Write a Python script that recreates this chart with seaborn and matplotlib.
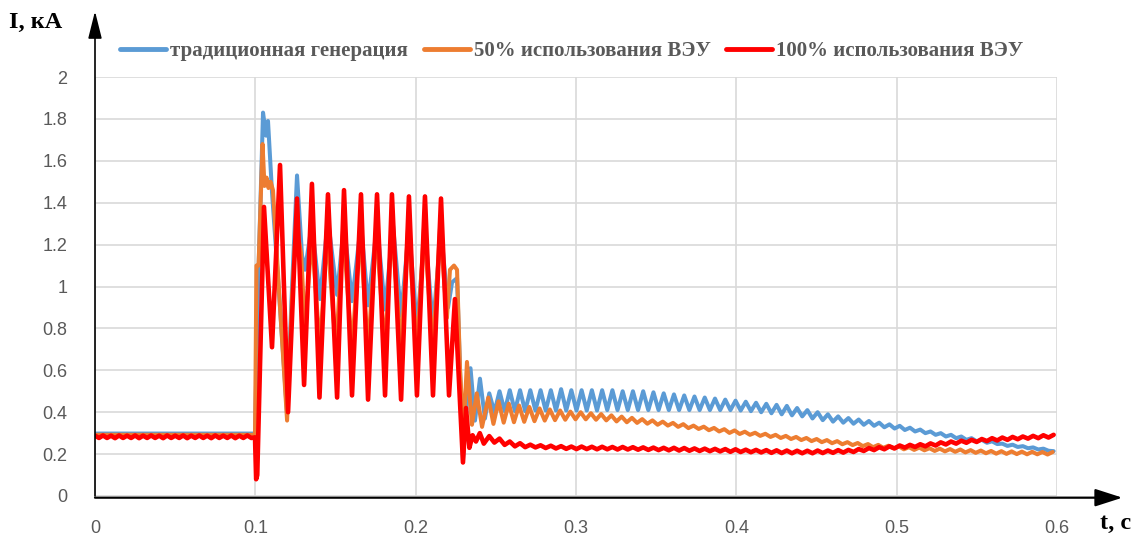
import numpy as np
import pandas as pd
import matplotlib
matplotlib.use("Agg")
import matplotlib.pyplot as plt
import seaborn as sns

# ---------------- data ----------------
series_names = ["традиционная генерация", "50% использования ВЭУ", "100% использования ВЭУ"]
series_colors = ["#5B9BD5", "#ED7D31", "#FF0000"]

x_ticks = [0, 0.1, 0.2, 0.3, 0.4, 0.5, 0.6]
x_tick_labels = ["0", "0.1", "0.2", "0.3", "0.4", "0.5", "0.6"]
y_ticks = [0, 0.2, 0.4, 0.6, 0.8, 1.0, 1.2, 1.4, 1.6, 1.8, 2.0]
y_tick_labels = ["0", "0.2", "0.4", "0.6", "0.8", "1", "1.2", "1.4", "1.6", "1.8", "2"]

# --- traditional generation (blue): pre-fault + fault + transient
blue_fault_t = [0.0, 0.0998, 0.1017, 0.1048, 0.1067, 0.1079, 0.1104, 0.1154, 0.1198, 0.1229,
                0.126, 0.1291, 0.131, 0.1353, 0.1403, 0.1453, 0.151, 0.1553, 0.1603, 0.1659,
                0.1703, 0.1759, 0.1809, 0.1859, 0.1909, 0.1958, 0.2008, 0.2058, 0.2108, 0.2158,
                0.2202, 0.2227, 0.2258, 0.2277, 0.2295, 0.232, 0.2342, 0.237, 0.2401, 0.2432]
blue_fault_v = [0.298, 0.298, 1.00, 1.83, 1.72, 1.79, 1.45, 0.90, 0.39, 1.00,
                1.53, 1.15, 1.08, 1.30, 0.94, 1.32, 0.96, 1.30, 0.93, 1.30,
                0.91, 1.30, 0.89, 1.29, 0.86, 1.28, 0.80, 1.27, 0.81, 1.27,
                0.90, 1.02, 1.04, 0.60, 0.17, 0.45, 0.61, 0.36, 0.56, 0.37]
# post-fault ripple: alternating peaks / troughs every half period
blue_post_start = 0.2459
blue_post_step = 0.0032
blue_post_v = [0.49, 0.40, 0.50, 0.405, 0.505, 0.405, 0.505, 0.405, 0.505, 0.408,
               0.505, 0.408, 0.505, 0.408, 0.51, 0.408, 0.505, 0.408, 0.505, 0.408,
               0.505, 0.408, 0.505, 0.41, 0.505, 0.41, 0.50, 0.41, 0.50, 0.41,
               0.50, 0.41, 0.495, 0.41, 0.49, 0.41, 0.485, 0.41, 0.48, 0.41,
               0.475, 0.41, 0.47, 0.41, 0.465, 0.41, 0.46, 0.41, 0.455, 0.408,
               0.45, 0.405, 0.445, 0.40, 0.44, 0.395, 0.435, 0.39, 0.43, 0.385,
               0.42, 0.38, 0.41, 0.37, 0.40, 0.362, 0.39, 0.355, 0.38, 0.35,
               0.372, 0.345, 0.365, 0.34, 0.358, 0.335, 0.35, 0.328, 0.342, 0.322,
               0.335, 0.315, 0.326, 0.308, 0.317, 0.30, 0.308, 0.292, 0.30, 0.284,
               0.292, 0.276, 0.284, 0.268, 0.276, 0.261, 0.268, 0.254, 0.261, 0.248,
               0.25, 0.239, 0.245, 0.234, 0.238, 0.228, 0.232, 0.222, 0.226, 0.216, 0.214]

# --- 50 % wind (orange)
orange_fault_t = [0.0, 0.0998, 0.1007, 0.102, 0.1045, 0.1057, 0.107, 0.1082, 0.1095, 0.111,
                  0.1154, 0.1198, 0.1229, 0.1254, 0.1285, 0.131, 0.1353, 0.1403, 0.1447, 0.1503,
                  0.1547, 0.1603, 0.1653, 0.1703, 0.1753, 0.1809, 0.1852, 0.1909, 0.1952, 0.2008,
                  0.2052, 0.2108, 0.2152, 0.2195, 0.2214, 0.2239, 0.2258, 0.2277, 0.2298, 0.232,
                  0.2351, 0.2381, 0.2414]
orange_fault_v = [0.292, 0.292, 1.10, 1.10, 1.68, 1.48, 1.52, 1.47, 1.50, 1.46,
                  0.90, 0.36, 0.95, 1.30, 1.16, 0.80, 1.24, 0.70, 1.25, 0.70,
                  1.27, 0.70, 1.26, 0.70, 1.27, 0.70, 1.28, 0.70, 1.27, 0.70,
                  1.28, 0.70, 1.28, 0.85, 1.08, 1.10, 1.08, 0.60, 0.30, 0.64,
                  0.34, 0.49, 0.33]
orange_post_start = 0.2453
orange_post_step = 0.0032
orange_post_v = [0.47, 0.344, 0.452, 0.35, 0.441, 0.352, 0.432, 0.354, 0.425, 0.357,
                 0.418, 0.36, 0.413, 0.362, 0.408, 0.364, 0.403, 0.366, 0.40, 0.366,
                 0.395, 0.364, 0.391, 0.361, 0.385, 0.356, 0.379, 0.352, 0.373, 0.349,
                 0.367, 0.345, 0.361, 0.34, 0.355, 0.336, 0.349, 0.33, 0.343, 0.324,
                 0.336, 0.32, 0.331, 0.314, 0.325, 0.308, 0.319, 0.301, 0.313, 0.296,
                 0.307, 0.292, 0.302, 0.287, 0.297, 0.282, 0.292, 0.277, 0.287, 0.272,
                 0.282, 0.267, 0.277, 0.262, 0.272, 0.257, 0.267, 0.252, 0.262, 0.247,
                 0.257, 0.243, 0.253, 0.238, 0.248, 0.233, 0.244, 0.23, 0.24, 0.227,
                 0.237, 0.223, 0.233, 0.22, 0.231, 0.218, 0.228, 0.215, 0.226, 0.213,
                 0.224, 0.211, 0.222, 0.208, 0.219, 0.206, 0.217, 0.204, 0.215, 0.202,
                 0.214, 0.201, 0.213, 0.20, 0.212, 0.199, 0.211, 0.199, 0.21, 0.198, 0.21]

# --- 100 % wind (red)
red_pre_step = 0.0025
red_pre_v = [0.288, 0.277, 0.289, 0.277, 0.288, 0.276, 0.289, 0.277, 0.288, 0.277,
             0.289, 0.276, 0.288, 0.277, 0.289, 0.277, 0.288, 0.276, 0.289, 0.277,
             0.288, 0.277, 0.289, 0.276, 0.288, 0.277, 0.289, 0.277, 0.288, 0.276,
             0.289, 0.277, 0.288, 0.277, 0.289, 0.276, 0.288, 0.277, 0.289, 0.277]
red_fault_t = [0.0998, 0.1005, 0.1012, 0.1054, 0.1104, 0.1154, 0.1204, 0.126, 0.1304, 0.1353,
               0.14, 0.1453, 0.151, 0.1553, 0.1603, 0.1659, 0.1703, 0.1759, 0.1809, 0.1852,
               0.1909, 0.1958, 0.2008, 0.2058, 0.2108, 0.2158, 0.2208, 0.2245, 0.2295, 0.2314,
               0.2335, 0.2355, 0.2376, 0.24, 0.2425]
red_fault_v = [0.28, 0.08, 0.10, 1.38, 0.71, 1.58, 0.40, 1.42, 0.53, 1.49,
               0.47, 1.44, 0.47, 1.46, 0.48, 1.44, 0.46, 1.44, 0.48, 1.44,
               0.46, 1.43, 0.48, 1.43, 0.48, 1.42, 0.48, 0.94, 0.16, 0.42,
               0.23, 0.29, 0.26, 0.30, 0.25]
red_post_start = 0.2459
red_post_step = 0.0032
red_post_v = [0.286, 0.255, 0.274, 0.244, 0.26, 0.237, 0.252, 0.233, 0.245, 0.232,
              0.242, 0.229, 0.24, 0.227, 0.238, 0.225, 0.236, 0.224, 0.236, 0.224,
              0.235, 0.223, 0.235, 0.223, 0.234, 0.222, 0.234, 0.222, 0.233, 0.221,
              0.232, 0.22, 0.231, 0.219, 0.23, 0.218, 0.23, 0.217, 0.229, 0.216,
              0.227, 0.215, 0.226, 0.214, 0.225, 0.213, 0.224, 0.211, 0.223, 0.21,
              0.221, 0.209, 0.22, 0.208, 0.219, 0.206, 0.218, 0.205, 0.217, 0.204,
              0.216, 0.204, 0.216, 0.204, 0.217, 0.205, 0.217, 0.206, 0.219, 0.207,
              0.22, 0.21, 0.224, 0.215, 0.229, 0.219, 0.233, 0.223, 0.237, 0.227,
              0.241, 0.231, 0.244, 0.234, 0.247, 0.237, 0.251, 0.241, 0.256, 0.246,
              0.26, 0.25, 0.264, 0.254, 0.268, 0.258, 0.272, 0.262, 0.276, 0.265,
              0.279, 0.268, 0.282, 0.271, 0.284, 0.274, 0.287, 0.276, 0.29, 0.279, 0.292]

# ---------------- assemble tidy tables ----------------
def post_times(start, step, vals):
    return list(start + step * np.arange(len(vals)))

blue_t = blue_fault_t + post_times(blue_post_start, blue_post_step, blue_post_v)
blue_v = blue_fault_v + blue_post_v
orange_t = orange_fault_t + post_times(orange_post_start, orange_post_step, orange_post_v)
orange_v = orange_fault_v + orange_post_v
red_t = list(red_pre_step * np.arange(len(red_pre_v))) + red_fault_t + \
    post_times(red_post_start, red_post_step, red_post_v)
red_v = red_pre_v + red_fault_v + red_post_v

frames = []
for name, t, v in zip(series_names, [blue_t, orange_t, red_t], [blue_v, orange_v, red_v]):
    frames.append(pd.DataFrame({"t": t, "I": v, "series": name}))

# ---------------- plotting ----------------
sns.set_theme(style="white")
plt.rcParams["font.family"] = ["Liberation Serif", "DejaVu Serif"]

fig = plt.figure(figsize=(11.48, 5.37), dpi=100)
ax = fig.add_axes([95 / 1148, 1 - 496 / 537, (1057 - 95) / 1148, (496 - 77) / 537])

widths = [2.9, 2.9, 3.3]
for df, col, lw in zip(frames, series_colors, widths):
    sns.lineplot(data=df, x="t", y="I", color=col, linewidth=lw, sort=False,
                 estimator=None, ax=ax, label=df["series"].iloc[0],
                 solid_joinstyle="round", solid_capstyle="round")

ax.set_xlim(0, 0.6)
ax.set_ylim(0, 2)
ax.set_xticks(x_ticks)
ax.set_xticklabels(x_tick_labels)
ax.set_yticks(y_ticks)
ax.set_yticklabels(y_tick_labels)
ax.grid(True, color="#d9d9d9", linewidth=1.2)
ax.set_axisbelow(True)
for s in ax.spines.values():
    s.set_visible(False)
ax.set_xlabel("")
ax.set_ylabel("")
ax.tick_params(axis="both", length=0, labelsize=13, labelcolor="#595959")
ax.tick_params(axis="x", pad=17)
ax.tick_params(axis="y", pad=20)
for lab in ax.get_xticklabels() + ax.get_yticklabels():
    lab.set_fontfamily(["Liberation Sans", "DejaVu Sans"])

# axis arrows
ax.annotate("", xy=(1.068, -0.004), xytext=(0, -0.004), xycoords="axes fraction",
            arrowprops=dict(arrowstyle="-|>,head_length=1.4,head_width=0.45",
                            color="black", lw=1.6, shrinkA=0, shrinkB=0),
            annotation_clip=False)
ax.annotate("", xy=(0, 1.157), xytext=(0, 0), xycoords="axes fraction",
            arrowprops=dict(arrowstyle="-|>,head_length=1.4,head_width=0.35",
                            color="black", lw=1.2, shrinkA=0, shrinkB=0),
            annotation_clip=False)

fig.text(9 / 1148, 1 - 22 / 537, "I, кА", fontsize=17.5, fontweight="bold",
         color="black", va="center", ha="left")
fig.text(1100 / 1148, 1 - 523 / 537, "t, с", fontsize=17.5, fontweight="bold",
         color="black", va="center", ha="left")

leg = ax.legend(loc="center", bbox_to_anchor=(572 / 1148, 1 - 51 / 537),
                bbox_transform=fig.transFigure, ncol=3, frameon=False,
                handlelength=2.2, handletextpad=0.2, columnspacing=0.75,
                prop={"family": ["Liberation Serif"], "weight": "bold", "size": 15})
for txt in leg.get_texts():
    txt.set_color("#595959")
for h in leg.get_lines():
    h.set_linewidth(3.5)

fig.savefig("out.png", dpi=100)
